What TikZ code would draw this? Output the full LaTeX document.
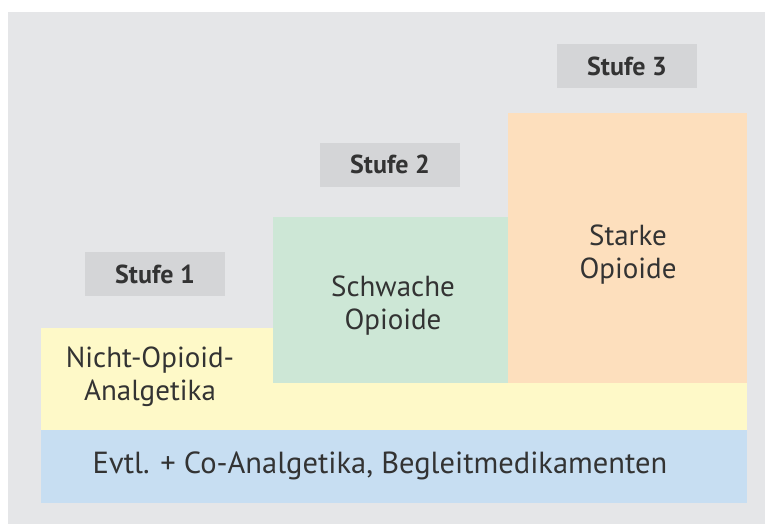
\documentclass[tikz,border=0pt]{standalone}
\usepackage{fontspec}
\setmainfont{PT Sans}
\usetikzlibrary{positioning}
\definecolor{bggray}{HTML}{E5E6E8}
\definecolor{stagegray}{HTML}{D4D5D7}
\definecolor{nopioidyellow}{HTML}{FEF9C8}
\definecolor{weakgreen}{HTML}{CDE7D6}
\definecolor{strongorange}{HTML}{FDDFBD}
\definecolor{coblue}{HTML}{C7DEF2}
\definecolor{textdark}{HTML}{333333}
\tikzset{area/.style={rectangle, anchor=north west, inner sep=0pt}}
\tikzset{stage/.style={rectangle, fill=stagegray, minimum width=140pt, minimum height=44pt, inner sep=0pt, text=textdark, font=\bfseries\fontsize{26}{30}\selectfont}}
\tikzset{infotext/.style={align=center, text=textdark, font=\fontsize{29}{33}\selectfont}}

\begin{document}
\begin{tikzpicture}[x=1pt,y=-1pt]
    \useasboundingbox (0,0) rectangle (765,524);
    \fill[bggray] (8,12) rectangle (765,524);

    \node[area, fill=nopioidyellow, minimum width=706pt, minimum height=102pt] (nopioid) at (41,328) {};
    \node[area, fill=weakgreen,     minimum width=235pt, minimum height=166pt] (weak)    at (273,217) {};
    \node[area, fill=strongorange,  minimum width=239pt, minimum height=270pt] (strong)  at (508,113) {};
    \node[area, fill=coblue,        minimum width=706pt, minimum height=73pt]  (coanalg) at (41,430) {};

    \node[stage] (s1) at (155,274)   {Stufe 1};
    \node[stage] (s2) at (390,164.5) {Stufe 2};
    \node[stage] (s3) at (627,66.5)  {Stufe 3};

    \node[infotext] (tnopioid) at (150,377) {Nicht-Opioid-\\Analgetika};
    \node[infotext] (tweak)    at (393,306) {Schwache\\Opioide};
    \node[infotext] (tstrong)  at (628,255) {Starke\\Opioide};
    \node[infotext, font=\fontsize{30.5}{34}\selectfont] (tcoanalg) at (380,466) {Evtl. + Co-Analgetika, Begleitmedikamenten};
\end{tikzpicture}
\end{document}
